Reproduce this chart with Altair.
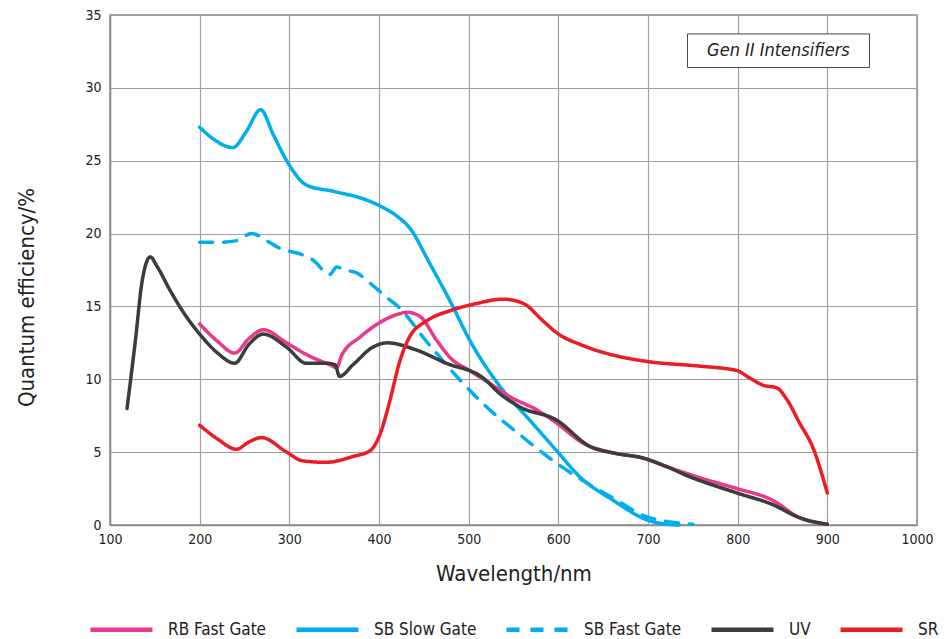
import altair as alt
import pandas as pd

FONT = "Liberation Sans Narrow, DejaVu Sans Condensed, Roboto, sans-serif"

series_names = ["RB Fast Gate", "SB Slow Gate", "SB Fast Gate", "UV", "SR"]
series_colors = ["#E8398D", "#00AEEF", "#00AEEF", "#3C3C3C", "#EC1C24"]
series_dash = [[1, 0], [1, 0], [13, 11], [1, 0], [1, 0]]

# SB Slow Gate
sbs_x = [200, 215, 237, 252, 268, 282, 297, 320, 349, 386, 401, 420, 434, 457, 479,
         501, 535, 568, 598, 624, 661, 699, 721, 735]
sbs_y = [27.3, 26.5, 25.9, 27.0, 28.5, 26.8, 25.0, 23.3, 22.9, 22.3, 21.9, 21.2, 20.4, 17.9, 15.4,
         12.7, 9.5, 7.2, 5.1, 3.3, 1.7, 0.35, 0.05, 0.0]

# SB Fast Gate
sbf_x = [200, 220, 240, 258, 275, 289, 312, 326, 345, 353, 362, 375, 390, 409, 423, 438,
         449, 464, 475, 494, 520, 557, 590, 626, 661, 699, 725, 750]
sbf_y = [19.4, 19.4, 19.5, 20.0, 19.5, 19.0, 18.6, 18.2, 17.2, 17.7, 17.5, 17.3, 16.6, 15.6, 14.9, 13.8,
         12.9, 11.8, 11.0, 9.7, 8.1, 6.2, 4.6, 3.1, 1.85, 0.55, 0.2, 0.05]

# RB Fast Gate
rb_x = [200, 220, 239, 255, 271, 297, 319, 345, 353, 358, 379, 401, 423, 431, 446, 464,
        479, 501, 524, 546, 576, 598, 628, 657, 694, 721, 760, 799, 839, 869, 900]
rb_y = [13.8, 12.6, 11.8, 12.8, 13.4, 12.5, 11.7, 11.0, 10.8, 11.6, 12.9, 13.9, 14.5, 14.6, 14.3, 12.7,
        11.5, 10.6, 9.7, 8.8, 7.9, 7.0, 5.6, 5.0, 4.6, 4.0, 3.2, 2.5, 1.7, 0.5, 0.05]

# UV
uv_x = [119, 128, 136, 145, 152, 167, 184, 200, 220, 239, 255, 271, 297, 319, 341, 351, 356,
        371, 393, 409, 442, 475, 516, 535, 557, 598, 635, 665, 694, 721, 743, 799, 839, 869, 900]
uv_y = [8.0, 12.5, 16.8, 18.4, 17.8, 16.1, 14.4, 13.1, 11.8, 11.1, 12.4, 13.1, 12.2, 11.1, 11.1, 11.0, 10.2,
        11.0, 12.2, 12.5, 12.0, 11.1, 10.1, 9.0, 8.1, 7.2, 5.4, 4.9, 4.6, 4.0, 3.4, 2.2, 1.4, 0.5, 0.05]

# SR
sr_x = [200, 220, 241, 255, 269, 297, 315, 341, 371, 390, 401, 412, 423, 434, 453, 479,
        509, 538, 561, 583, 598, 628, 665, 702, 758, 799, 813, 828, 844, 855, 869, 884, 900]
sr_y = [6.85, 5.9, 5.2, 5.7, 6.0, 5.0, 4.4, 4.3, 4.7, 5.1, 6.2, 8.5, 11.2, 12.9, 14.0, 14.7,
        15.2, 15.5, 15.2, 14.0, 13.2, 12.3, 11.6, 11.2, 10.9, 10.6, 10.1, 9.6, 9.4, 8.6, 7.0, 5.3, 2.2]

x_ticks = [100, 200, 300, 400, 500, 600, 700, 800, 900, 1000]
y_ticks = [0, 5, 10, 15, 20, 25, 30, 35]

note_text = ["Gen II Intensifiers"]
note_x = [744, 947]
note_y = [31.4, 33.7]

draw_order = [
    ("SB Slow Gate", sbs_x, sbs_y),
    ("SB Fast Gate", sbf_x, sbf_y),
    ("RB Fast Gate", rb_x, rb_y),
    ("UV", uv_x, uv_y),
    ("SR", sr_x, sr_y),
]
rows = []
for k, (name, xs, ys) in enumerate(draw_order):
    for xv, yv in zip(xs, ys):
        rows.append({"series": name, "wl": xv, "qe": yv, "ord": k})
df = pd.DataFrame(rows)

x_enc = alt.X("wl:Q", scale=alt.Scale(domain=[100, 1000], nice=False),
              axis=alt.Axis(values=x_ticks, format="d", title="Wavelength/nm", titleY=38,
                            titleBaseline="top", titleFontSize=22, labelPadding=7, labelFlush=False))
y_enc = alt.Y("qe:Q", scale=alt.Scale(domain=[0, 35], nice=False),
              axis=alt.Axis(values=y_ticks, title="Quantum efficiency/%", titleX=-72, titleY=282,
                            titleFontSize=22, labelPadding=9, labelFlush=False))

# trailing spaces only widen the legend entries to space them like the original
label_expr = ("datum.label == 'SB Slow Gate' ? 'SB Slow Gate  ' : "
              "datum.label == 'SB Fast Gate' ? 'SB Fast Gate     ' : "
              "datum.label == 'UV' ? 'UV    ' : datum.label")
leg = dict(title=None, orient="none", legendX=-22, legendY=581, direction="horizontal",
           labelExpr=label_expr)

lines = alt.Chart(df).mark_line(interpolate="monotone", strokeWidth=3.5, strokeCap="round").encode(
    x=x_enc,
    y=y_enc,
    color=alt.Color("series:N", scale=alt.Scale(domain=series_names, range=series_colors),
                    legend=alt.Legend(**leg)),
    strokeDash=alt.StrokeDash("series:N", scale=alt.Scale(domain=series_names, range=series_dash),
                              legend=alt.Legend(**leg)),
    detail="ord:O",
)

note_df = pd.DataFrame({"x": [note_x[0]], "x2": [note_x[1]], "y": [note_y[0]], "y2": [note_y[1]],
                        "tx": [(note_x[0] + note_x[1]) / 2], "ty": [(note_y[0] + note_y[1]) / 2],
                        "text": note_text})

box = alt.Chart(note_df).mark_rect(fill="white", stroke="#444444", strokeWidth=1).encode(
    x="x:Q", x2="x2:Q", y="y:Q", y2="y2:Q")
label = alt.Chart(note_df).mark_text(font=FONT, fontStyle="italic", fontSize=18, color="#222222",
                                     baseline="middle", align="center").encode(
    x="tx:Q", y="ty:Q", text="text:N")

chart = alt.layer(lines, box, label).properties(
    width=807, height=510,
    padding={"left": 102, "top": 7, "right": 24, "bottom": 114},
    autosize=alt.AutoSizeParams(type="none"),
).configure_view(stroke="#8a8a8a", strokeWidth=1.5).configure_axis(
    grid=True, gridColor="#a0a0a0", gridWidth=1.2, domainColor="#8a8a8a", domainWidth=1.5,
    ticks=False, labelFont=FONT, titleFont=FONT, labelFontSize=14, labelColor="#222222",
    titleColor="#222222", titleFontWeight="normal",
).configure_legend(
    symbolType="stroke", symbolSize=3844, symbolStrokeWidth=4.5, labelFont=FONT, labelFontSize=17,
    labelColor="#222222", labelOffset=13, columnPadding=20, symbolOffset=0, padding=0,
)

chart.save("out.html", embed_options={"renderer": "svg", "actions": False})
